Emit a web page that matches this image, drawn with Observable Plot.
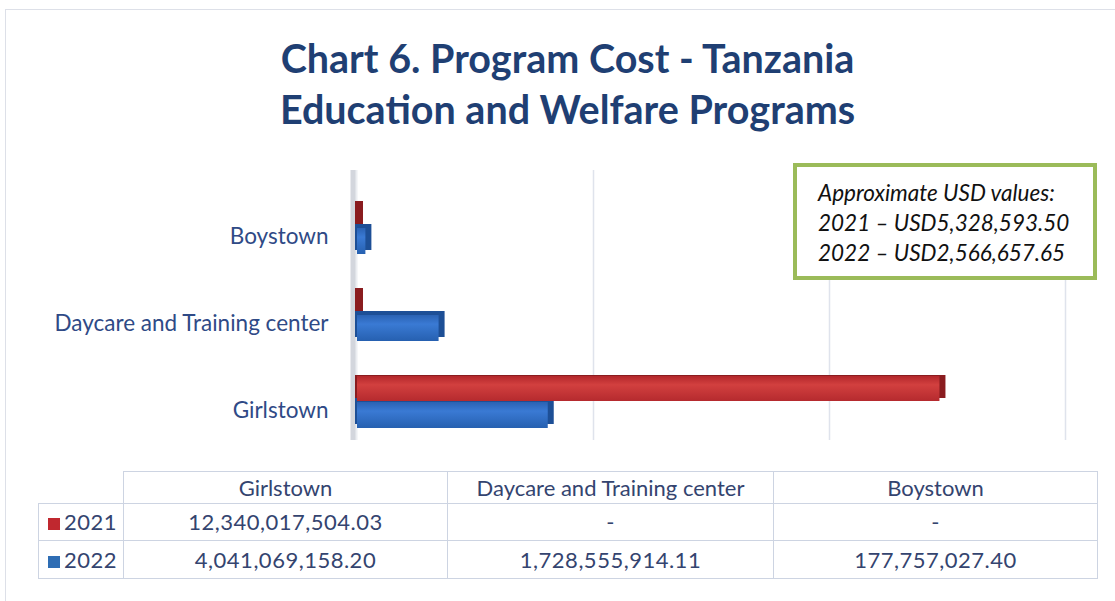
<!DOCTYPE html>
<html>
<head>
<meta charset="utf-8">
<script src="https://cdn.jsdelivr.net/npm/d3@7"></script>
<script src="https://cdn.jsdelivr.net/npm/@observablehq/plot@0.6"></script>
<style>
  html, body { margin: 0; padding: 0; background: #fff; }
  #chart { position: relative; width: 1115px; height: 601px; overflow: hidden; font-family: Lato, "Open Sans", sans-serif; }
  #frame { position: absolute; left: 5px; top: 9px; width: 1112px; height: 600px; border: 1px solid #dde0e8; box-sizing: border-box; }
  #title { position: absolute; left: 10px; top: 32px; width: 1115px; text-align: center; color: #1F3F73; font-weight: 700; font-size: 39.5px; line-height: 51px; }
  #plot { position: absolute; left: 0; top: 160px; }
  #note { position: absolute; left: 793px; top: 163px; width: 304px; height: 117px; box-sizing: border-box; border: 4px solid #9BBB59; background: #fff; padding: 11px 0 0 21px; font-style: italic; font-size: 22.5px; line-height: 30px; color: #111; white-space: nowrap; }
  #table { position: absolute; left: 38px; top: 471px; border-collapse: collapse; color: #34446f; font-size: 22px; line-height: 26px; }
  #table td { border: 1px solid #cdd4e2; text-align: center; padding: 0; box-sizing: border-box; }
  #table td.num { letter-spacing: 0.5px; }
  #table td.blank { border: none; border-bottom: 1px solid #cdd4e2; }
  #table td.leg { text-align: left; padding-left: 9px; white-space: nowrap; letter-spacing: 0.5px; }
  .sw { display: inline-block; width: 12px; height: 12px; margin-right: 4px; vertical-align: 0px; }
</style>
</head>
<body>
<div id="chart">
  <div id="frame"></div>
  <div id="title"></div>
  <div id="plot"></div>
  <div id="note"></div>
  <table id="table"></table>
</div>
<script>
// ---- data ----
const categories = ["Girlstown", "Daycare and Training center", "Boystown"];
const years = ["2021", "2022"];
const values2021 = [12340017504.03, 0, 0];
const values2022 = [4041069158.20, 1728555914.11, 177757027.40];
const xTicks = [0, 5e9, 10e9, 15e9];
const titleLines = ["Chart 6. Program Cost - Tanzania", "Education and Welfare Programs"];
const noteLines = ["Approximate USD values:", "2021 – USD5,328,593.50", "2022 – USD2,566,657.65"];
const yearColors = ["#C0282F", "#2E6DB4"];

// ---- title & note ----
document.getElementById("title").innerHTML = titleLines.join("<br>");
document.getElementById("note").innerHTML = noteLines.join("<br>");

// ---- chart ----
const rows2021 = categories.map((c, i) => ({category: c, year: years[0], value: values2021[i]}));
const rows2022 = categories.map((c, i) => ({category: c, year: years[1], value: values2022[i]}));
const yOrder = categories.slice().reverse();

const half = 26;
const plot = Plot.plot({
  width: 1115,
  height: 290,
  marginLeft: 357,
  marginRight: 50,
  marginTop: 10,
  marginBottom: 10,
  x: {domain: [0, 15e9], axis: null},
  y: {domain: yOrder, range: [24.5, 285.5], paddingInner: 0.4, paddingOuter: 0.2, label: null},
  marks: [
    Plot.ruleX(xTicks.slice(1), {stroke: "#dfe3ec", strokeWidth: 1.5}),
    Plot.ruleX([0], {stroke: "#d3d6dd", strokeWidth: 6, dx: -4}),
    Plot.ruleX([0], {stroke: "#eceef2", strokeWidth: 2, dx: -1}),
    // 2022 (lower half) with depth
    Plot.barX(rows2022, {y: "category", x1: 0, x2: "value", insetTop: half, insetLeft: -2, insetRight: -6, dy: -4, fill: "#1d4f96"}),
    Plot.barX(rows2022, {y: "category", x1: 0, x2: "value", insetTop: half, fill: "url(#gBlue)"}),
    // 2021 (upper half) with depth
    Plot.barX(rows2021, {y: "category", x1: 0, x2: "value", insetBottom: half, insetTop: 3, insetLeft: -2, insetRight: -6, dy: -4, fill: "#8a1c1f"}),
    Plot.barX(rows2021, {y: "category", x1: 0, x2: "value", insetBottom: half + 1, fill: "url(#gRed)"}),
    Plot.axisY({tickSize: 0, tickPadding: 29, fontSize: 22.5, dy: 8, color: "#2f4a86", label: null})
  ],
  style: {fontFamily: "Lato, 'Open Sans', sans-serif", background: "transparent", overflow: "visible"}
});
const svg = d3.select(plot);
const defs = svg.insert("defs", ":first-child");
const gr = defs.append("linearGradient").attr("id", "gRed").attr("x1", 0).attr("x2", 0).attr("y1", 0).attr("y2", 1);
gr.append("stop").attr("offset", "0%").attr("stop-color", "#b3272b");
gr.append("stop").attr("offset", "35%").attr("stop-color", "#d2403f");
gr.append("stop").attr("offset", "100%").attr("stop-color", "#b52a2e");
const gb = defs.append("linearGradient").attr("id", "gBlue").attr("x1", 0).attr("x2", 0).attr("y1", 0).attr("y2", 1);
gb.append("stop").attr("offset", "0%").attr("stop-color", "#2a62b3");
gb.append("stop").attr("offset", "35%").attr("stop-color", "#3a7ad4");
gb.append("stop").attr("offset", "100%").attr("stop-color", "#2660b0");
document.getElementById("plot").appendChild(plot);

// ---- data table ----
const fmt = v => v === 0 ? "-" : d3.format(",.2f")(v);
const colWidths = [85, 324, 326, 324];
const table = d3.select("#table");
const hdr = table.append("tr").style("height", "32px");
hdr.append("td").attr("class", "blank").style("width", colWidths[0] + "px");
categories.forEach((c, i) => hdr.append("td").style("width", colWidths[i + 1] + "px").text(c));
[values2021, values2022].forEach((vals, k) => {
  const tr = table.append("tr").style("height", k === 0 ? "37px" : "38px");
  const td = tr.append("td").attr("class", "leg");
  td.append("span").attr("class", "sw").style("background", yearColors[k]);
  td.append("span").text(years[k]);
  vals.forEach(v => tr.append("td").attr("class", "num").text(fmt(v)));
});
</script>
</body>
</html>
